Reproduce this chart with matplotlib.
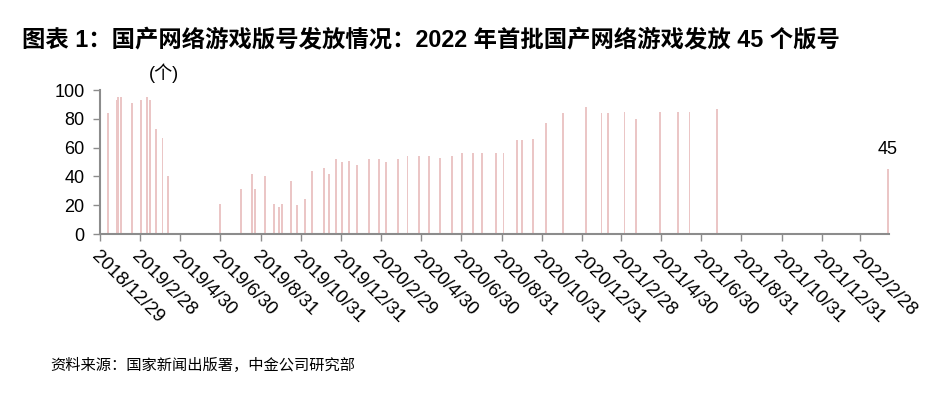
import numpy as np
import pandas as pd
import matplotlib
matplotlib.use("Agg")
import matplotlib.pyplot as plt

plt.rcParams['font.family'] = ['Liberation Sans', 'Noto Sans CJK SC']

# --- données : date de publication et nombre de versions approuvées ---
dates = [
    "2019-01-10", "2019-01-23", "2019-01-26", "2019-01-30", "2019-02-16",
    "2019-03-01", "2019-03-10", "2019-03-15", "2019-03-24", "2019-04-03",
    "2019-04-12", "2019-06-30", "2019-07-31", "2019-08-17", "2019-08-22",
    "2019-09-06", "2019-09-20", "2019-09-27", "2019-10-02", "2019-10-16",
    "2019-10-25", "2019-11-06", "2019-11-16", "2019-12-05", "2019-12-12",
    "2019-12-23", "2020-01-01", "2020-01-12", "2020-01-24", "2020-02-11",
    "2020-02-27", "2020-03-08", "2020-03-26", "2020-04-10", "2020-04-28",
    "2020-05-13", "2020-05-29", "2020-06-17", "2020-07-02", "2020-07-19",
    "2020-08-01", "2020-08-23", "2020-09-03", "2020-09-23", "2020-10-01",
    "2020-10-18", "2020-11-07", "2020-12-03", "2021-01-06", "2021-01-30",
    "2021-02-09", "2021-03-06", "2021-03-23", "2021-04-29", "2021-05-26",
    "2021-06-13", "2021-07-25", "2022-04-11",
]
counts = [
    84, 93, 95, 95, 91,
    93, 95, 93, 73, 67,
    40, 21, 31, 42, 31,
    40, 21, 19, 21, 37,
    20, 24, 44, 46, 42,
    52, 50, 51, 48, 52,
    52, 50, 52, 54, 54,
    54, 53, 54, 56, 56,
    56, 56, 56, 65, 65,
    66, 77, 84, 88, 84,
    84, 85, 80, 85, 85,
    85, 87, 45,
]
tick_dates = [
    "2018-12-29", "2019-02-28", "2019-04-30", "2019-06-30", "2019-08-31",
    "2019-10-31", "2019-12-31", "2020-02-29", "2020-04-30", "2020-06-30",
    "2020-08-31", "2020-10-31", "2020-12-31", "2021-02-28", "2021-04-30",
    "2021-06-30", "2021-08-31", "2021-10-31", "2021-12-31", "2022-02-28",
]
tick_labels = [
    "2018/12/29", "2019/2/28", "2019/4/30", "2019/6/30", "2019/8/31",
    "2019/10/31", "2019/12/31", "2020/2/29", "2020/4/30", "2020/6/30",
    "2020/8/31", "2020/10/31", "2020/12/31", "2021/2/28", "2021/4/30",
    "2021/6/30", "2021/8/31", "2021/10/31", "2021/12/31", "2022/2/28",
]
x_start, x_end = "2018-12-29", "2022-04-11"

d = pd.to_datetime(dates)
gray = "#8c8c8c"

fig = plt.figure(figsize=(9.46, 3.96), dpi=100)
ax = fig.add_axes([0.1057, 0.409, 0.8337, 0.3636])

ax.bar(d, counts, width=2.8, color="#ebc6c6", linewidth=0)
ax.set_xlim(pd.Timestamp(x_start), pd.Timestamp(x_end) + pd.Timedelta(days=1))
ax.set_ylim(0, 100)
ax.set_yticks(np.arange(0, 101, 20))

ax.set_xticks(pd.to_datetime(tick_dates))
ax.set_xticklabels(tick_labels, rotation=-45, ha="left", va="top",
                   rotation_mode="anchor", fontsize=13.5)
ax.tick_params(axis="x", direction="out", length=5, color=gray, width=1, pad=5)
ax.tick_params(axis="y", direction="out", length=5, color=gray, width=1,
               labelsize=13, pad=6)

for s in ["top", "right"]:
    ax.spines[s].set_visible(False)
for s in ["left", "bottom"]:
    ax.spines[s].set_color(gray)
    ax.spines[s].set_linewidth(1.5)

# étiquette du dernier lot
ax.annotate(str(counts[-1]), (d[-1], counts[-1]), xytext=(0, 8),
            textcoords="offset points", ha="center", va="bottom", fontsize=13)

fig.text(0.157, 0.79, "(个)", fontsize=13, ha="left", va="bottom")
fig.text(0.023, 0.9, "图表 1：国产网络游戏版号发放情况：2022 年首批国产网络游戏发放 45 个版号",
         fontsize=16.8, fontweight="bold", ha="left", va="center")
fig.text(0.053, 0.078, "资料来源：国家新闻出版署，中金公司研究部",
         fontsize=11, ha="left", va="center")

plt.savefig("out.png", dpi=100)
